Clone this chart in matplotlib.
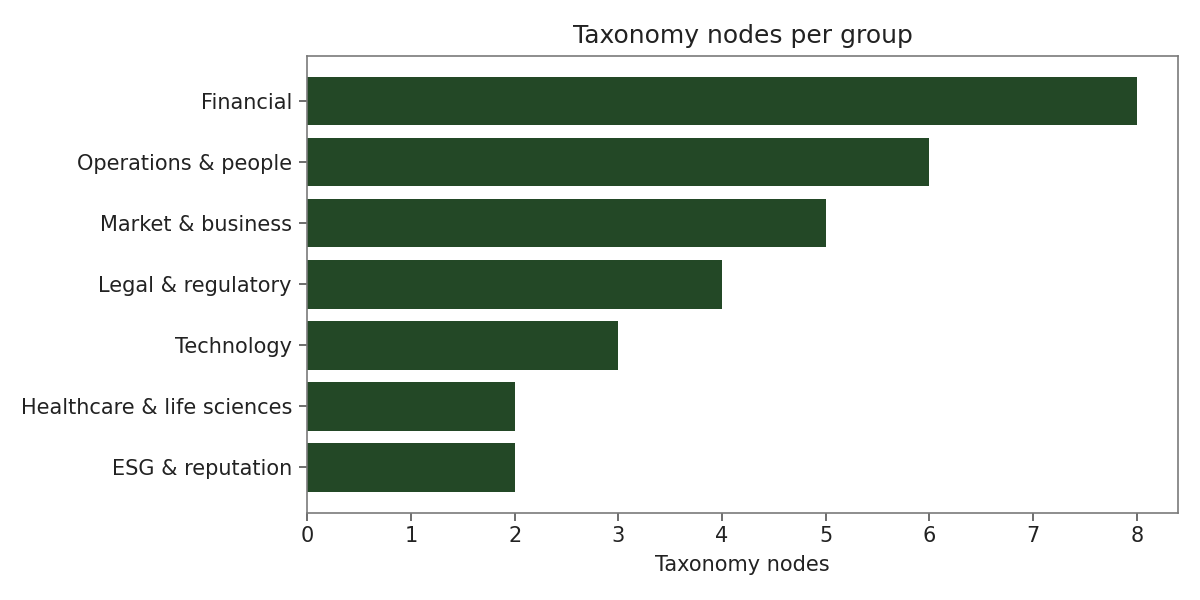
import matplotlib
matplotlib.use("Agg")
import matplotlib.pyplot as plt

groups = ["Financial", "Operations & people", "Market & business", "Legal & regulatory",
          "Technology", "Healthcare & life sciences", "ESG & reputation"]
nodes = [8, 6, 5, 4, 3, 2, 2]

plt.rcParams['font.family'] = ['DejaVu Sans']
text_col = '#222222'

fig, ax = plt.subplots(figsize=(12, 6), dpi=100)
fig.subplots_adjust(left=0.256, right=0.982, top=0.907, bottom=0.145)

ax.barh(groups, nodes, color='#234826', height=0.8)
ax.set_xlim(0, 8.4)
ax.set_ylim(6.75, -0.74)

ax.set_title("Taxonomy nodes per group", fontsize=18, color=text_col, pad=9)
ax.set_xlabel("Taxonomy nodes", fontsize=15, color=text_col, labelpad=6)

for s in ax.spines.values():
    s.set_color('#7a7a7a')
    s.set_linewidth(1.2)
ax.tick_params(axis='both', labelsize=15, colors='#555555', labelcolor=text_col,
               length=6, width=1.2)
ax.tick_params(axis='y', pad=5)

fig.savefig("out.png")
